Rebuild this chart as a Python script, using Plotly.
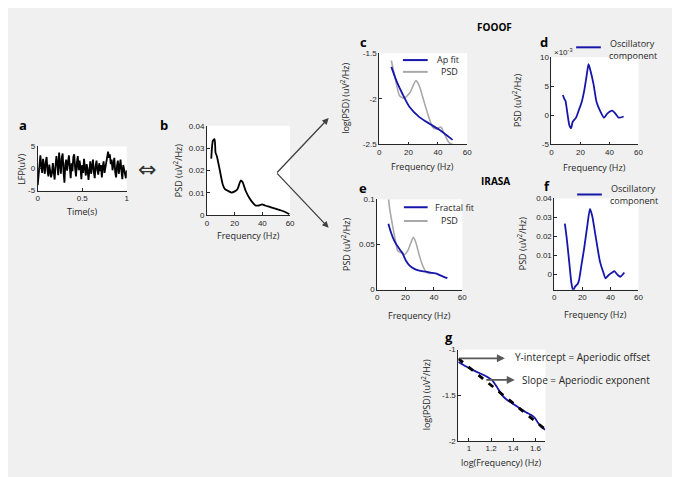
import plotly.graph_objects as go
import numpy as np

W, H = 680, 477

# ---------------- data ----------------
lfp = [-3.8, -1.5, 1.8, 3.0, 0.5, -1.0, 2.2, 0.8, -1.2, 1.5, 2.6, -0.5, -1.8, 0.9, -0.3, -2.0,
       -1.0, 1.2, -0.8, -2.5, 0.6, 2.8, 1.0, -1.5, 3.6, 0.2, -1.2, 2.4, 3.4, -0.8, -3.2, 1.0,
       2.0, -0.5, 1.6, 3.0, 0.4, -2.2, 1.2, -0.6, 2.6, 3.2, 0.0, -1.8, 1.4, 2.8, -0.4, 1.8,
       0.2, -2.4, 0.8, -1.0, 2.2, 0.6, -1.6, 1.0, -0.2, -2.6, 0.4, 1.6, -1.2, 0.2, 2.0, -0.8,
       -2.2, 0.6, 1.8, -0.4, -1.4, 1.2, -0.6, 0.8, -2.0, 0.4, 1.6, -1.0, 0.0, 1.2, 2.8, 3.8,
       2.4, 3.2, 1.0, 2.0, -0.4, 1.4, 2.4, -0.8, -2.0, 0.6, 1.8, -1.2, 0.4, 2.0, -0.6, -2.4,
       0.8, -0.2, -1.4, -2.2, -0.4]
lfp_t = list(np.linspace(0, 1, len(lfp)))

b_freq = [3.1, 4.3, 5.5, 6.2, 7.1, 9, 11.4, 13, 15.4, 17.8, 19.7, 22, 24.4, 25.6, 28, 30.3,
          32.7, 35, 37.4, 39.8, 42, 45.7, 49.3, 52.8, 56.4, 59.5]
b_psd = [0.0253, 0.0333, 0.034, 0.028, 0.0265, 0.021, 0.0137, 0.0116, 0.0108, 0.0101, 0.0105,
         0.0116, 0.0155, 0.0149, 0.0108, 0.008, 0.0058, 0.0043, 0.0043, 0.0048, 0.0043, 0.0036,
         0.0029, 0.0022, 0.0014, 0.0004]

c_psd_f = [8.3, 10.6, 14, 17, 21, 25, 27.4, 30, 33, 36.4, 38.6, 42, 44, 47.6, 50]
c_psd = [-1.58, -1.75, -1.97, -1.99, -1.93, -1.80, -1.86, -2.0, -2.16, -2.31, -2.33, -2.31,
         -2.37, -2.48, -2.5]
c_fit_f = [8.3, 11.7, 16, 20.7, 27.4, 34, 41, 50]
c_fit = [-1.65, -1.8, -1.95, -2.09, -2.2, -2.27, -2.34, -2.45]

d_f = [7.9, 9, 9.7, 10.9, 12.4, 13.6, 14.7, 17, 19.2, 20.8, 22.6, 24.4, 25.6, 27, 29, 31.2,
       33.9, 36.2, 38.5, 41.9, 44.1, 46.4, 49.8]
d_v = [3.5, 2.8, 2.5, 0.6, -1.7, -2.25, -1.1, -0.4, 1.1, 2.2, 4.2, 7.0, 8.8, 7.6, 5.4, 2.2,
       0.6, -0.4, 0.3, 0.8, 0.3, -0.4, -0.2]  # x 10^-3

e_psd_f = [7, 8.6, 10.5, 12.9, 14.5, 16.8, 19.2, 21.5, 23.8, 25.5, 27.3, 29.7, 32, 34.3, 36.7, 39]
e_psd = [0.12, 0.092, 0.074, 0.054, 0.043, 0.041, 0.039, 0.043, 0.052, 0.058, 0.052, 0.038,
         0.027, 0.020, 0.018, 0.019]
e_fit_f = [7.9, 9.8, 12.1, 15.7, 18, 20.3, 22.7, 26.2, 29.7, 34.3, 39, 41.4, 44.9, 49.5]
e_fit = [0.073, 0.063, 0.054, 0.045, 0.040, 0.032, 0.027, 0.023, 0.021, 0.020, 0.0185, 0.018,
         0.0156, 0.0127]

f_f = [7.5, 8.9, 10.6, 12.2, 13.4, 14.8, 16.5, 17.6, 19.3, 21.2, 23.5, 25.4, 27.1, 29.4, 32.5,
       34.8, 36.5, 38.8, 41.2, 42.8, 45.2, 47.1, 49.9]
f_v = [0.0267, 0.0186, 0.0066, -0.0047, -0.0085, -0.0064, -0.0052, -0.003, 0.0048, 0.0134,
       0.0255, 0.0345, 0.0305, 0.0203, 0.0069, 0.0014, -0.002, -0.0003, 0.001, 0.0017, -0.0003,
       -0.0012, 0.001]

g_x = [0.905, 0.967, 1.057, 1.146, 1.206, 1.25, 1.295, 1.339, 1.384, 1.429, 1.473, 1.518,
       1.562, 1.592, 1.621, 1.651, 1.687]
g_y = [-1.136, -1.18, -1.237, -1.287, -1.333, -1.405, -1.495, -1.548, -1.584, -1.62, -1.656,
       -1.69, -1.717, -1.745, -1.80, -1.846, -1.88]
g_fit_x = [0.905, 1.675]
g_fit_y = [-1.10, -1.862]

# ---------------- style ----------------
BLUE = "#1616aa"
GRAY = "#a8a8a8"
TXT = "#262626"
TICKFONT = dict(size=8, color=TXT, family="Liberation Sans")
LBLFONT = dict(size=9, color=TXT, family="Open Sans")


def px(x):
    return x / W


def py(y):
    return 1 - y / H


# panel boxes in pixels: (left, right, top, bottom)
boxes = {
    "a": (28, 118, 137, 182),
    "b": (199, 283, 116, 207),
    "c": (373, 462, 42, 135),
    "d": (547, 635, 46, 135),
    "e": (371, 457, 191, 283),
    "f": (550, 635, 190, 283),
    "g": (453, 541, 344, 437),
}
order = ["a", "b", "c", "d", "e", "f", "g"]

ranges = {
    "a": ([0, 1], [-5, 5]),
    "b": ([0, 60], [0, 0.04]),
    "c": ([0, 60], [-2.5, -1.5]),
    "d": ([0, 60], [-5, 10]),
    "e": ([0, 60], [0, 0.1]),
    "f": ([0, 60], [-0.008, 0.04]),
    "g": ([0.905, 1.69], [-2, -1]),
}
xticks = {
    "a": ([0, 0.5, 1], ["0", "0.5", "1"]),
    "b": ([0, 20, 40, 60], ["0", "20", "40", "60"]),
    "c": ([0, 20, 40, 60], ["0", "20", "40", "60"]),
    "d": ([0, 20, 40, 60], ["0", "20", "40", "60"]),
    "e": ([0, 20, 40, 60], ["0", "20", "40", "60"]),
    "f": ([0, 20, 40, 60], ["0", "20", "40", "60"]),
    "g": ([1, 1.2, 1.4, 1.6], ["1", "1.2", "1.4", "1.6"]),
}
yticks = {
    "a": ([-5, 0, 5], ["-5", "0", "5"]),
    "b": ([0, 0.01, 0.02, 0.03, 0.04], ["0", "0.01", "0.02", "0.03", "0.04"]),
    "c": ([-2.5, -2, -1.5], ["-2.5", "-2", "-1.5"]),
    "d": ([-5, 0, 5, 10], ["-5", "0", "5", "10"]),
    "e": ([0, 0.05, 0.1], ["0", "0.05", "0.1"]),
    "f": ([0, 0.01, 0.02, 0.03, 0.04], ["0", "0.01", "0.02", "0.03", "0.04"]),
    "g": ([-2, -1.5, -1], ["-2", "-1.5", "-1"]),
}

fig = go.Figure()
layout = {}
axmap = {}
for i, k in enumerate(order):
    n = "" if i == 0 else str(i + 1)
    axmap[k] = ("x" + n, "y" + n)
    l, r, t, b = boxes[k]
    common = dict(ticks="inside", ticklen=3, tickwidth=0.8, tickcolor=TXT, showline=True,
                  linecolor=TXT, linewidth=0.8, showgrid=False, zeroline=False,
                  tickfont=TICKFONT, fixedrange=True)
    layout["xaxis" + n] = dict(domain=[px(l), px(r)], range=ranges[k][0], anchor="y" + n,
                               tickvals=xticks[k][0], ticktext=xticks[k][1], **common)
    layout["yaxis" + n] = dict(domain=[py(b), py(t)], range=ranges[k][1], anchor="x" + n,
                               tickvals=yticks[k][0], ticktext=yticks[k][1], **common)


def add(k, x, y, color, width, dash="solid", shape="spline"):
    xa, ya = axmap[k]
    fig.add_trace(go.Scatter(x=x, y=y, mode="lines", xaxis=xa, yaxis=ya, showlegend=False,
                             line=dict(color=color, width=width, dash=dash, shape=shape,
                                       smoothing=0.6 if shape == "spline" else None)))


add("a", lfp_t, lfp, "black", 1.8, shape="linear")
add("b", b_freq, b_psd, "black", 1.8)
add("c", c_psd_f, c_psd, GRAY, 1.6)
add("c", c_fit_f, c_fit, BLUE, 1.8)
add("d", d_f, d_v, BLUE, 1.8)
add("e", e_psd_f, e_psd, GRAY, 1.6)
add("e", e_fit_f, e_fit, BLUE, 1.8)
add("f", f_f, f_v, BLUE, 1.8)
add("g", g_x, g_y, BLUE, 1.8)
add("g", g_fit_x, g_fit_y, "black", 2.8, dash="6px,7px", shape="linear")

ann = []
shapes = []


def text(x, y, s, font, angle=0, xanchor="center", pad=1):
    ann.append(dict(x=px(x), y=py(y), xref="paper", yref="paper", text=s, showarrow=False,
                    font=font, textangle=angle, xanchor=xanchor, yanchor="middle",
                    borderpad=pad))


# panel letters
LET = dict(size=13, color="black", family="Open Sans")
for k, (x, y) in {"a": (13, 115), "b": (156, 115), "c": (357, 31), "d": (540, 31),
                  "e": (357, 179), "f": (543, 177), "g": (444, 331)}.items():
    text(x, y, "<b>%s</b>" % k, LET, pad=0)

HEAD = dict(size=10, color="black", family="Open Sans")
text(490, 15, "<b>FOOOF</b>", HEAD)
text(491, 172, "<b>IRASA</b>", HEAD)

# axis titles
FREQ = "Frequency (Hz)"
PSDL = "PSD (uV<sup>2</sup>/Hz)"
LOGP = "log(PSD) (uV<sup>2</sup>/Hz)"
text(73, 203, "Time(s)", LBLFONT)
text(12, 160, "LFP(uV)", LBLFONT, -90)
text(241, 228, FREQ, LBLFONT)
text(170, 161, PSDL, LBLFONT, -90)
text(417, 157, FREQ, LBLFONT)
text(339, 88, LOGP, LBLFONT, -90)
text(591, 158, FREQ, LBLFONT)
text(513, 90, PSDL, LBLFONT, -90)
text(414, 309, FREQ, LBLFONT)
text(339, 237, PSDL, LBLFONT, -90)
text(592, 308, FREQ, LBLFONT)
text(517, 236, PSDL, LBLFONT, -90)
text(497, 459, "log(Frequency) (Hz)", LBLFONT)
text(420, 390, LOGP, LBLFONT, -90)

text(548, 41, "×10<sup>-3</sup>", dict(size=8, color=TXT, family="Liberation Sans"), xanchor="left")

# legends
LEG = dict(size=9, color=TXT, family="Open Sans")


def legline(x0, x1, y, color):
    shapes.append(dict(type="line", xref="paper", yref="paper", x0=px(x0), x1=px(x1),
                       y0=py(y), y1=py(y), line=dict(color=color, width=2)))


legline(397, 422, 49, BLUE)
text(443, 48, "Ap fit", LEG)
legline(397, 422, 61, GRAY)
text(444, 61, "PSD", LEG)

legline(572, 597, 36, BLUE)
text(629, 32, "Oscillatory", LEG)
text(629, 44, "component", LEG)

legline(398, 422, 199, BLUE)
text(449, 199, "Fractal fit", LEG)
legline(398, 422, 213, GRAY)
text(444, 212, "PSD", LEG)

legline(573, 598, 186, BLUE)
text(630, 180, "Oscillatory", LEG)
text(630, 192, "component", LEG)

# arrows from b to c / e
ARW = "#404040"
for hx, hy in [(322, 108), (322, 220)]:
    ann.append(dict(x=px(hx), y=py(hy), xref="paper", yref="paper", ax=269 - hx, ay=164 - hy,
                    showarrow=True, arrowhead=2, arrowsize=1, arrowwidth=1.3, arrowcolor=ARW,
                    text=""))

# double arrow between a and b
text(138, 161, "⇔", dict(size=22, color="#333333", family="DejaVu Sans"))

# g annotations
GA = "#595959"
ann.append(dict(x=px(500), y=py(353), xref="paper", yref="paper", ax=-47, ay=0, showarrow=True,
                arrowhead=2, arrowsize=1, arrowwidth=1.6, arrowcolor=GA, text=""))
ann.append(dict(x=px(510), y=py(375), xref="paper", yref="paper", ax=-30, ay=0, showarrow=True,
                arrowhead=2, arrowsize=1, arrowwidth=1.6, arrowcolor=GA, text=""))
GT = dict(size=10, color=TXT, family="Open Sans")
text(508, 352, "Y-intercept = Aperiodic offset", GT, xanchor="left")
text(515, 375, "Slope = Aperiodic exponent", GT, xanchor="left")

fig.update_layout(**layout)
fig.update_layout(width=W, height=H, margin=dict(l=0, r=0, t=0, b=0), autosize=False,
                  paper_bgcolor="#f0f0f0", plot_bgcolor="white", annotations=ann,
                  shapes=shapes, showlegend=False)
fig.write_html("out.html", config={"displayModeBar": False})
